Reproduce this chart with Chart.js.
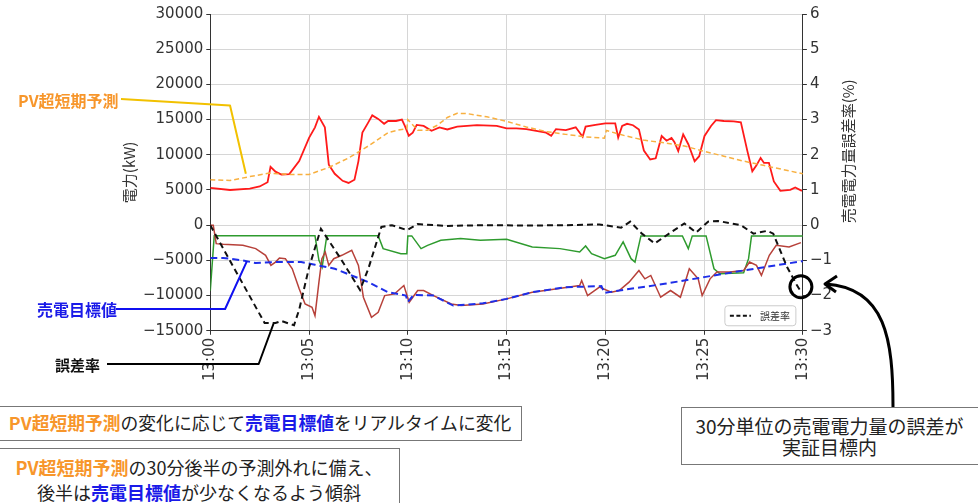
<!DOCTYPE html>
<html lang="ja">
<head>
<meta charset="utf-8">
<title>売電目標値と誤差率</title>
<script src="https://cdn.jsdelivr.net/npm/chart.js@4.4.1/dist/chart.umd.min.js"></script>
<style>
    html, body { margin: 0; padding: 0; background: #fff; }
    #wrap { position: relative; width: 978px; height: 503px; overflow: hidden; font-family: 'Noto Sans CJK JP', 'Noto Sans', sans-serif; }
    #chart { position: absolute; left: 0; top: 0; }
    .lbl { position: absolute; font-weight: bold; white-space: nowrap; height: 20px; line-height: 20px; }
    .box { position: absolute; box-sizing: border-box; border: 1.5px solid #777; background: #fff; text-align: center; color: #222; white-space: nowrap; }
    .pv { color: #F7962B; font-weight: bold; }
    .tg { color: #1A1AE8; font-weight: bold; }
</style>
</head>
<body>
<div id="wrap">
    <canvas id="chart" width="978" height="503"></canvas>

    <div class="lbl" style="left:18px; top:90px; font-size:16px; color:#F7962B;">PV超短期予測</div>
    <div class="lbl" style="left:37px; top:299px; font-size:16px; color:#1A1AE8;">売電目標値</div>
    <div class="lbl" style="left:55px; top:355px; font-size:15px; color:#111;">誤差率</div>

    <div class="box" style="left:-2px; top:406px; width:524px; height:35px; font-size:17.8px; line-height:31px;">
        <span class="pv">PV超短期予測</span>の変化に応じて<span class="tg">売電目標値</span>をリアルタイムに変化
    </div>
    <div class="box" style="left:-2px; top:448px; width:402px; height:60px; font-size:18px; line-height:25px; padding-top:6px;">
        <span class="pv">PV超短期予測</span>の30分後半の予測外れに備え、<br>
        後半は<span class="tg">売電目標値</span>が少なくなるよう傾斜
    </div>
    <div class="box" style="left:681px; top:407px; width:300px; height:58px; font-size:19px; line-height:21px; padding-top:7px; padding-right:3px;">
        30分単位の売電電力量の誤差が<br>実証目標内
    </div>
</div>

<script>
// minutes after 13:00
const xTickLabels = ['13:00', '13:05', '13:10', '13:15', '13:20', '13:25', '13:30'];

// PV actual output (kW)
const pvActualT = [0, 1, 2, 2.5, 2.9, 3.05, 3.3, 3.6, 4.0, 4.5, 5.0, 5.3, 5.5, 5.8, 6.0, 6.3, 6.7, 7.0, 7.3, 7.5,
    7.7, 8.0, 8.2, 8.5, 8.8, 9.0, 9.4, 9.7, 9.85, 10.05, 10.25, 10.45, 10.8, 11.2, 11.6, 12.0, 12.5, 13.5, 14.5, 15,
    15.5, 16, 16.5, 17, 17.26, 17.5, 18, 18.5, 18.85, 19.0, 19.5, 20, 20.5, 20.65, 20.85, 21.1, 21.4, 21.7, 21.95, 22.27,
    22.55, 22.85, 23.1, 23.35, 23.5, 23.69, 23.94, 24.2, 24.52, 24.75, 25.02, 25.35, 25.6, 26.0, 26.5, 26.86, 27.19, 27.44, 27.65, 27.86,
    28.03, 28.28, 28.53, 28.86, 29.36, 29.61, 29.95];
const pvActualKw = [5300, 5000, 5200, 5500, 6100, 8300, 7600, 7200, 7250, 9100, 12400, 13900, 15400, 13900, 8600, 7300, 6300, 6000, 6450, 9100,
    13150, 14600, 15600, 15100, 14400, 14800, 14800, 15000, 14100, 12700, 13150, 14250, 14100, 13400, 13900, 13600, 14000, 14200, 14100, 13750,
    13750, 13650, 13400, 13150, 12700, 13650, 13500, 13900, 12550, 14000, 14250, 14450, 14450, 12450, 14100, 14400, 14200, 13600, 10600, 9330,
    9500, 12670, 12000, 12400, 11800, 10520, 12900, 11500, 9080, 9800, 12670, 14100, 14920, 14800, 14750, 14600, 10520, 7650, 8500, 9560,
    8850, 8850, 6210, 4880, 5020, 5350, 4880];

// PV ultra-short-term forecast (kW)
const pvForecastT = [0, 1, 2, 3, 4, 5, 6, 7, 8, 9, 9.5, 9.95, 10.0, 10.5, 11, 11.5, 12, 12.5, 13, 14,
    15, 16, 17, 18, 19, 19.95, 20.05, 21, 22, 23, 24, 25, 26, 27, 28, 29, 30];
const pvForecastKw = [6450, 6350, 6900, 7400, 7200, 7200, 8200, 9550, 11250, 13150, 13500, 13700, 15000, 13500, 13500, 14200, 15300, 15900, 15850, 15400,
    14750, 13950, 13300, 12900, 12550, 12350, 13450, 12700, 12050, 11700, 11250, 10500, 9800, 9100, 8500, 7900, 7300];

// green line (kW)
const greenT = [0, 0.2, 5.3, 5.5, 5.66, 5.9, 8.5, 8.75, 9.65, 9.95, 10.0, 10.2, 10.67, 11.0, 11.67, 12.67, 13.67, 15, 16.3, 17.7,
    18.7, 19.0, 19.3, 19.95, 20.5, 20.9, 21.3, 21.5, 21.8, 23.9, 24.2, 24.4, 25.1, 25.5, 25.8, 27.0, 27.25, 27.4, 30];
const greenKw = [-9300, -1500, -1500, -5000, -6000, -1500, -1500, -3330, -4050, -4050, -1520, -1520, -3330, -2860, -2140, -1900, -2140, -2000, -3100, -3330,
    -3800, -2950, -4050, -4760, -4280, -2380, -4760, -5240, -1520, -1520, -3330, -1520, -1520, -6190, -6900, -6760, -4760, -1520, -1520];

// actual sold power (kW)
const sellActualT = [0, 0.15, 0.3, 0.65, 1.65, 2.3, 2.8, 3.07, 3.3, 3.5, 3.8, 4.15, 4.5, 4.8, 5.15, 5.3, 5.5, 5.65, 5.82, 6.0,
    6.25, 6.66, 7.16, 7.5, 7.75, 8.16, 8.5, 8.83, 9.33, 9.8, 10.07, 10.5, 10.8, 11.3, 12.2, 12.7, 13.8, 15.0, 16.3, 17.3,
    18.7, 18.8, 19.1, 19.7, 20.3, 20.7, 21.2, 21.7, 22.0, 22.3, 22.8, 23.3, 23.8, 24.25, 24.7, 24.9, 25.3, 25.65, 26.3, 27.0,
    27.3, 27.65, 27.9, 28.3, 28.65, 29.3, 29.9];
const sellActualKw = [0, 0, -2620, -2710, -2860, -3330, -4280, -5710, -5240, -4660, -4760, -6190, -9040, -11190, -11660, -12850, -8090, -4760, -3810, -5710,
    -4760, -4280, -3570, -5710, -10230, -13090, -12380, -10000, -9760, -8570, -10950, -9280, -9280, -10000, -11190, -11420, -11190, -10470, -9520, -9140,
    -8570, -7850, -10000, -8800, -9520, -9280, -8090, -6430, -7620, -7140, -10230, -9280, -10230, -6190, -7620, -10000, -7620, -6660, -6660, -6430,
    -5240, -5710, -7140, -4280, -2860, -3100, -2480];

// sell target value (kW)
const sellTargetT = [0, 0.65, 1.65, 2.3, 3.3, 4.6, 5.3, 6.3, 8.0, 9.0, 9.9, 10.0, 10.3, 11.3, 12.3, 13.8, 15, 16.3, 18.0, 19.8,
    19.95, 20.7, 23.0, 25.0, 27.0, 30];
const sellTargetKw = [-4660, -4660, -5000, -5380, -5240, -5240, -5620, -6190, -8090, -9520, -10000, -10900, -9900, -10000, -11420, -11100, -10470, -9520, -8800, -8660,
    -9620, -9280, -8330, -7380, -6430, -5100];

// error rate of sold energy (%)
const errorT = [0, 2.75, 3.3, 3.6, 4.0, 4.24, 4.5, 5.0, 5.6, 6.6, 7.58, 8.0, 8.66, 9.2, 9.95, 10.5, 12, 14, 16, 18,
    19.7, 20.8, 21.26, 21.85, 22.5, 23.35, 24.0, 24.6, 25.2, 25.7, 26.86, 27.5, 28.2, 28.5, 29.2, 29.7, 29.87];
const errorPct = [0, -2.78, -2.78, -2.72, -2.8, -2.84, -2.4, -1.2, -0.1, -0.95, -1.84, -1.24, -0.05, 0, -0.14, 0.03, -0.02, 0, -0.01, 0,
    0.02, -0.07, 0.1, -0.24, -0.52, -0.19, 0.05, -0.21, 0.1, 0.12, 0, -0.24, -0.16, -0.24, -1.19, -1.71, -1.86];

const pairs = (ts, vs) => ts.map((t, i) => ({x: t, y: vs[i]}));
const minus = v => String(v).replace('-', '\u2212');

const tickFont = {family: "'DejaVu Sans', sans-serif", size: 15};
const gridColor = '#d6d6d6';

// callouts, circle, arrow and legend drawn over the plot
const overlay = {
    id: 'overlay',
    afterDraw(chart) {
        const {ctx, chartArea, scales: {x, y, y1}} = chart;
        ctx.save();
        ctx.lineJoin = 'round';

        // right axis title, reading bottom to top
        ctx.fillStyle = '#333';
        ctx.font = "15px 'Noto Sans CJK JP', sans-serif";
        ctx.textAlign = 'center';
        ctx.textBaseline = 'middle';
        ctx.translate(y1.right - 13, (chartArea.top + chartArea.bottom) / 2 - 21);
        ctx.rotate(-Math.PI / 2);
        ctx.fillText('売電電力量誤差率(%)', 0, 0);
        ctx.setTransform(1, 0, 0, 1, 0, 0);

        ctx.lineWidth = 2;
        ctx.strokeStyle = '#F2C100';
        ctx.beginPath();
        ctx.moveTo(121, 99);
        ctx.lineTo(x.getPixelForValue(1.0), y.getPixelForValue(17000));
        ctx.lineTo(x.getPixelForValue(1.8), y.getPixelForValue(7300));
        ctx.stroke();

        ctx.strokeStyle = '#1010F0';
        ctx.beginPath();
        ctx.moveTo(116, 309);
        ctx.lineTo(x.getPixelForValue(0.75), 309);
        ctx.lineTo(x.getPixelForValue(1.85), y.getPixelForValue(-5150));
        ctx.stroke();

        ctx.strokeStyle = '#000';
        ctx.beginPath();
        ctx.moveTo(107, 364);
        ctx.lineTo(x.getPixelForValue(2.45), 364);
        ctx.lineTo(x.getPixelForValue(3.2), y1.getPixelForValue(-2.8));
        ctx.stroke();

        // target circle
        ctx.lineWidth = 3;
        ctx.beginPath();
        ctx.arc(x.getPixelForValue(29.9), y1.getPixelForValue(-1.75), 11, 0, Math.PI * 2);
        ctx.stroke();

        // curved arrow from the note box
        ctx.beginPath();
        ctx.moveTo(893, 407);
        ctx.bezierCurveTo(893, 340, 886, 288, 826, 284);
        ctx.stroke();
        ctx.beginPath();
        ctx.moveTo(837, 276);
        ctx.lineTo(825, 284);
        ctx.lineTo(836, 292);
        ctx.stroke();

        // legend box
        const lx = chartArea.right - 78, ly = chartArea.bottom - 25;
        ctx.lineWidth = 1;
        ctx.strokeStyle = '#cccccc';
        ctx.fillStyle = 'rgba(255,255,255,0.85)';
        ctx.beginPath();
        ctx.roundRect(lx, ly, 71, 20, 3);
        ctx.fill();
        ctx.stroke();
        ctx.strokeStyle = '#111';
        ctx.lineWidth = 1.8;
        ctx.setLineDash([4, 2.5]);
        ctx.beginPath();
        ctx.moveTo(lx + 5, ly + 10);
        ctx.lineTo(lx + 26, ly + 10);
        ctx.stroke();
        ctx.setLineDash([]);
        ctx.fillStyle = '#333';
        ctx.font = "10px 'Noto Sans CJK JP', sans-serif";
        ctx.textAlign = 'left';
        ctx.fillText('誤差率', lx + 35, ly + 10);
        ctx.restore();
    }
};

new Chart(document.getElementById('chart').getContext('2d'), {
    type: 'line',
    data: {
        datasets: [
            {label: '誤差率', data: pairs(errorT, errorPct), yAxisID: 'y1', borderColor: '#111', borderWidth: 2, borderDash: [6, 4], order: 0},
            {label: '売電目標値', data: pairs(sellTargetT, sellTargetKw), borderColor: '#1E2EE8', borderWidth: 2, borderDash: [7, 4], order: 1},
            {label: '売電実績', data: pairs(sellActualT, sellActualKw), borderColor: '#B7413A', borderWidth: 1.5, order: 2},
            {label: '蓄電池', data: pairs(greenT, greenKw), borderColor: '#2E9B2E', borderWidth: 1.5, order: 3},
            {label: 'PV超短期予測', data: pairs(pvForecastT, pvForecastKw), borderColor: '#F8B040', borderWidth: 1.5, borderDash: [5, 3], order: 4},
            {label: 'PV実績', data: pairs(pvActualT, pvActualKw), borderColor: '#FF1A1A', borderWidth: 1.8, order: 5}
        ]
    },
    options: {
        responsive: false,
        animation: false,
        devicePixelRatio: 1,
        elements: {point: {radius: 0}, line: {tension: 0}},
        layout: {padding: {left: 111, right: 117, top: 14, bottom: 119}},
        plugins: {legend: {display: false}, tooltip: {enabled: false}},
        scales: {
            x: {
                type: 'linear',
                min: 0,
                max: 30,
                ticks: {
                    stepSize: 5,
                    color: '#333',
                    font: tickFont,
                    minRotation: 90,
                    maxRotation: 90,
                    padding: 3,
                    callback: v => xTickLabels[v / 5]
                },
                grid: {color: gridColor, tickLength: 4, tickColor: '#333'},
                border: {color: '#333'}
            },
            y: {
                position: 'left',
                min: -15000,
                max: 30000,
                ticks: {stepSize: 5000, color: '#333', font: tickFont, padding: 3, callback: minus},
                grid: {color: gridColor, tickLength: 4, tickColor: '#333'},
                border: {color: '#333'},
                title: {
                    display: true,
                    text: '電力(kW)',
                    color: '#333',
                    font: {family: "'Noto Sans CJK JP', sans-serif", size: 15},
                    padding: {top: 9, bottom: 2}
                }
            },
            y1: {
                position: 'right',
                min: -3,
                max: 6,
                ticks: {stepSize: 1, color: '#333', font: tickFont, padding: 3, callback: minus},
                grid: {drawOnChartArea: false, tickLength: 4, tickColor: '#333'},
                border: {color: '#333'},
                title: {
                    display: true,
                    text: '売電電力量誤差率(%)',
                    color: 'rgba(0,0,0,0)',
                    font: {family: "'Noto Sans CJK JP', sans-serif", size: 15},
                    padding: {top: 4, bottom: 4}
                }
            }
        }
    },
    plugins: [overlay]
});
</script>
</body>
</html>
